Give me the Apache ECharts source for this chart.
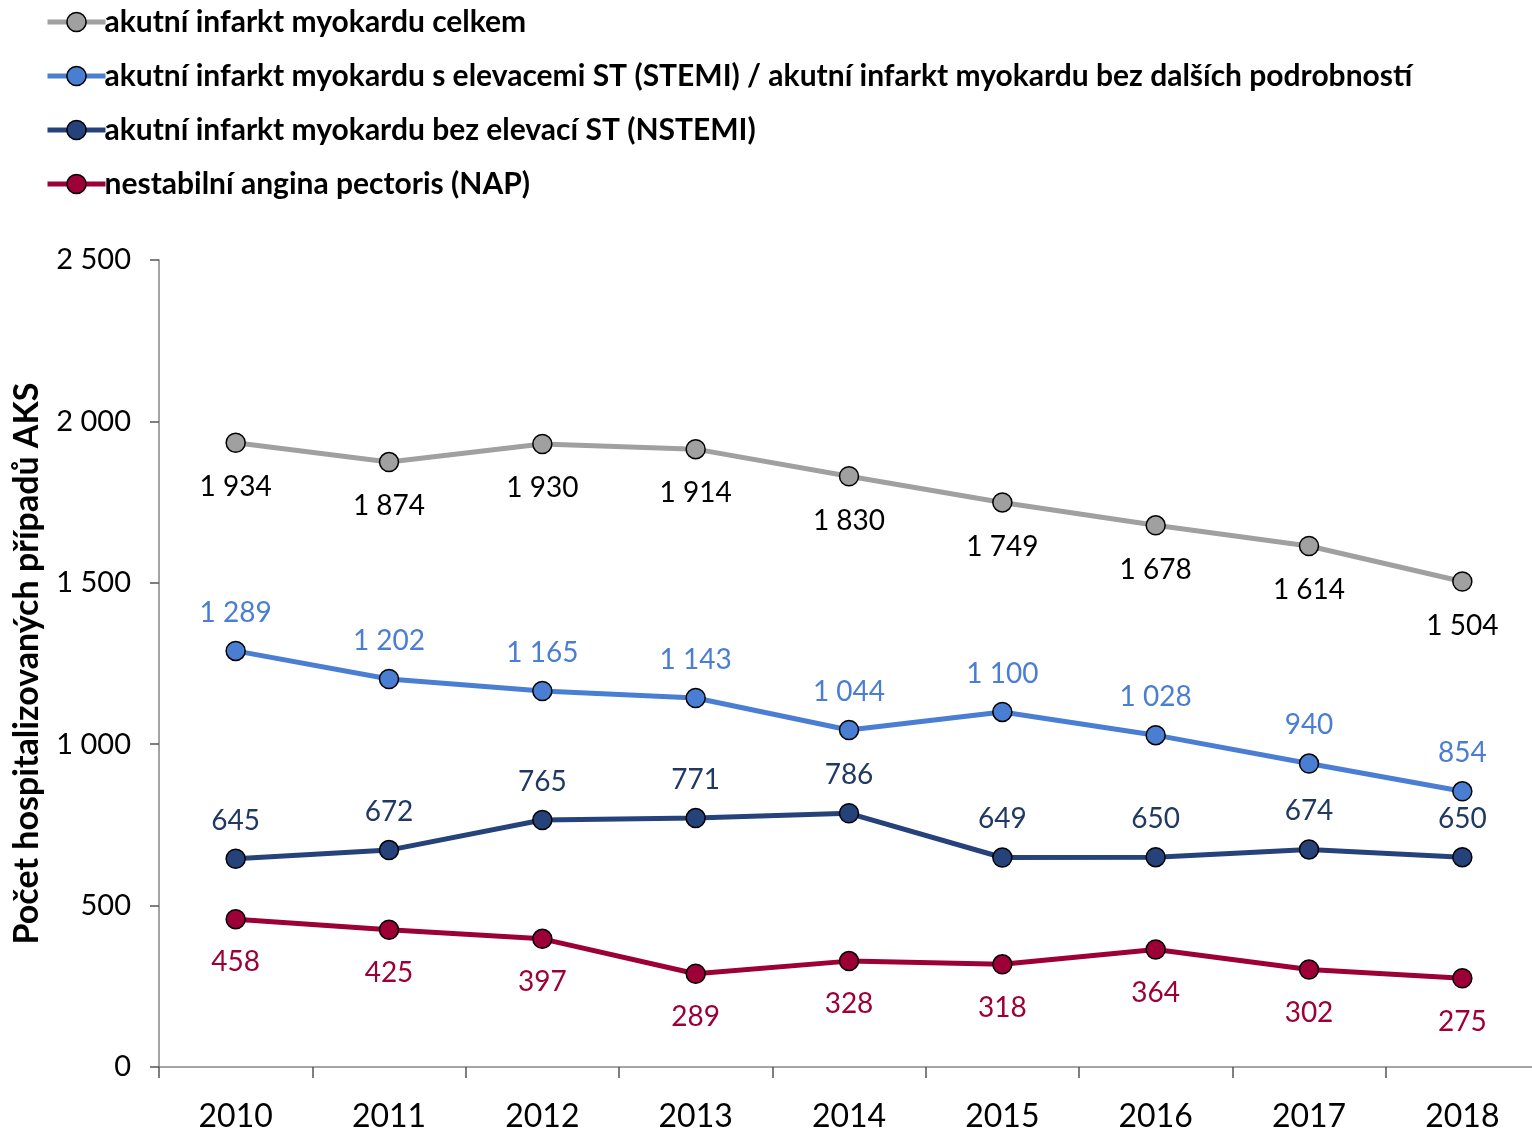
<!DOCTYPE html>
<html><head><meta charset="utf-8">
<script src="https://cdn.jsdelivr.net/npm/echarts@6/dist/echarts.min.js"></script>
<style>html,body{margin:0;padding:0;background:#fff}#c{width:1532px;height:1132px}</style>
</head><body><div id="c"></div>
<script>
const years = ['2010','2011','2012','2013','2014','2015','2016','2017','2018'];
const celkem = [1934,1874,1930,1914,1830,1749,1678,1614,1504];
const stemi = [1289,1202,1165,1143,1044,1100,1028,940,854];
const nstemi = [645,672,765,771,786,649,650,674,650];
const nap = [458,425,397,289,328,318,364,302,275];
const names = [
  'akutní infarkt myokardu celkem',
  'akutní infarkt myokardu s elevacemi ST (STEMI) / akutní infarkt myokardu bez dalších podrobností',
  'akutní infarkt myokardu bez elevací ST (NSTEMI)',
  'nestabilní angina pectoris (NAP)'
];
const yTitle = 'Počet hospitalizovaných případů AKS';
const FONT = 'Lato';
const fmt = v => String(v).replace(/\B(?=(\d{3})+(?!\d))/g, '\u00a0');
function mk(name, data, color, labelColor, pos, dist) {
  return {
    name, type: 'line', data, symbol: 'circle', symbolSize: 19,
    lineStyle: {color, width: 5},
    itemStyle: {color, borderColor: '#000', borderWidth: 1.5},
    label: {show: true, position: pos, distance: dist, color: labelColor, fontFamily: FONT, fontSize: 28,
      formatter: p => fmt(p.value)},
    emphasis: {disabled: true}, animation: false
  };
}
const chart = echarts.init(document.getElementById('c'));
chart.setOption({
  animation: false,
  textStyle: {fontFamily: FONT},
  legend: {
    orient: 'vertical', left: 40, top: 2, itemGap: 24, itemWidth: 58, itemHeight: 24,
    lineStyle: {width: 5},
    itemStyle: {borderColor: '#000', borderWidth: 1.5},
    textStyle: {fontFamily: FONT, fontWeight: 'bold', fontSize: 30, color: '#000', padding: [0,0,0,-6]},
    data: names
  },
  grid: {left: 159, width: 1380, top: 260, bottom: 65, containLabel: false, outerBoundsMode: 'none'},
  xAxis: {
    type: 'category', data: years, boundaryGap: true,
    axisLine: {lineStyle: {color: '#868686', width: 1.5}},
    axisTick: {show: true, length: 11, lineStyle: {color: '#555', width: 1.5}},
    axisLabel: {fontFamily: FONT, fontSize: 32, color: '#000', margin: 34}
  },
  yAxis: {
    type: 'value', min: 0, max: 2500, interval: 500,
    name: yTitle, nameLocation: 'middle', nameGap: 115, nameRotate: 90,
    nameTextStyle: {fontFamily: FONT, fontWeight: 'bold', fontSize: 34, color: '#000'},
    splitLine: {show: false},
    axisLine: {show: true, lineStyle: {color: '#868686', width: 1.5}},
    axisTick: {show: true, length: 9, lineStyle: {color: '#555', width: 1.5}},
    axisLabel: {fontFamily: FONT, fontSize: 29, color: '#000', margin: 28, formatter: v => fmt(v)}
  },
  series: [
    mk(names[0], celkem, '#a0a0a0', '#000', 'bottom', 20),
    mk(names[1], stemi, '#4a7ed2', '#4a7ed2', 'top', 14),
    mk(names[2], nstemi, '#26427a', '#1f3864', 'top', 14),
    mk(names[3], nap, '#9c0036', '#9c0036', 'bottom', 19)
  ]
});
</script></body></html>
